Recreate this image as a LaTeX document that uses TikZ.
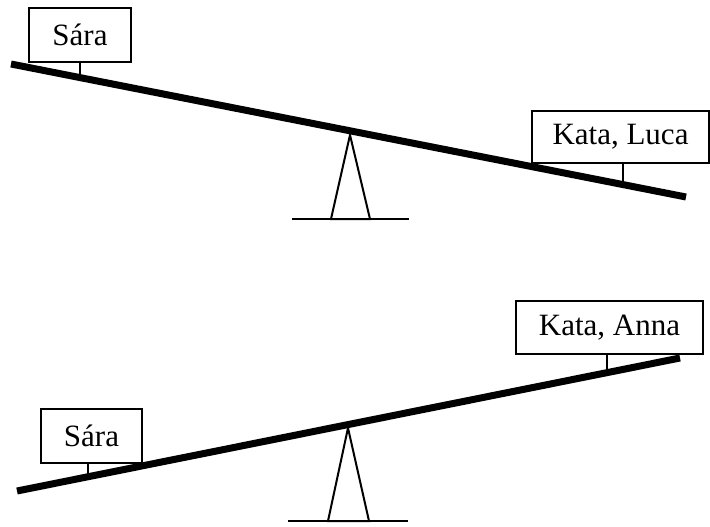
\documentclass[tikz,border=0pt]{standalone}
\usepackage{fontspec}
\setmainfont{Liberation Serif}
\begin{document}
\begin{tikzpicture}[x=1pt,y=-1pt,
  beam/.style={line width=7pt,line cap=butt},
  label/.style={draw,line width=1.5pt,inner sep=0pt,font=\fontsize{31}{37}\selectfont},
  stem/.style={line width=1.2pt},
  pivot/.style={line width=2pt,line join=miter},
  ground/.style={line width=1.6pt}]
\useasboundingbox (0,0) rectangle (710,527);
% top seesaw
\coordinate (tl) at (11,64);
\coordinate (tr) at (686,197);
\draw[beam] (tl) -- (tr);
\coordinate (tapex) at (350,135);
\coordinate (tfl) at (331,219);
\coordinate (tfr) at (370,219);
\draw[pivot] (tapex) -- (tfl) -- (tfr) -- cycle;
\coordinate (tgl) at (292,219);
\coordinate (tgr) at (409,219);
\draw[ground] (tgl) -- (tgr);
\node[label,minimum width=102pt,minimum height=54pt] (sara1) at (80,35) {Sára};
\node[label,minimum width=177pt,minimum height=52pt] (katal) at (620.5,137) {Kata, Luca};
\coordinate (s1b) at (80,75);
\coordinate (klb) at (623,182);
\draw[stem] (sara1.south -| s1b) -- (s1b);
\draw[stem] (katal.south -| klb) -- (klb);
% bottom seesaw
\coordinate (bl) at (17,491);
\coordinate (br) at (680,358);
\draw[beam] (bl) -- (br);
\coordinate (bapex) at (348,428);
\coordinate (bfl) at (328,521);
\coordinate (bfr) at (369,521);
\draw[pivot] (bapex) -- (bfl) -- (bfr) -- cycle;
\coordinate (bgl) at (288,521);
\coordinate (bgr) at (408,521);
\draw[ground] (bgl) -- (bgr);
\node[label,minimum width=101pt,minimum height=54pt] (sara2) at (91.5,436) {Sára};
\node[label,minimum width=187pt,minimum height=53pt] (kataa) at (609.5,327.5) {Kata, Anna};
\coordinate (s2b) at (88,474);
\coordinate (kab) at (607,370);
\draw[stem] (sara2.south -| s2b) -- (s2b);
\draw[stem] (kataa.south -| kab) -- (kab);
\end{tikzpicture}
\end{document}
